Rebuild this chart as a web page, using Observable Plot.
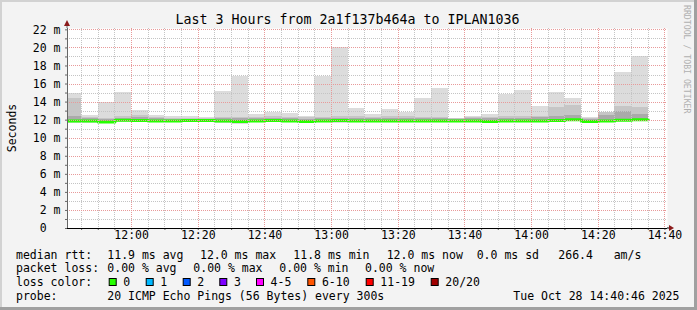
<!DOCTYPE html>
<html><head><meta charset="utf-8">
<script src="https://cdn.jsdelivr.net/npm/d3@7"></script>
<script src="https://cdn.jsdelivr.net/npm/@observablehq/plot@0.6"></script>
<style>
html,body{margin:0;padding:0;background:#f3f3f3;}
#chart{width:697px;height:310px;}
svg text{font-family:"DejaVu Sans Mono",monospace;}
</style></head><body><div id="chart"></div>
<script>
// ---- data ----
const barStarts = ["11:40","11:45","11:50","11:55","12:00","12:05","12:10","12:15","12:20","12:25","12:30","12:35","12:40","12:45","12:50","12:55","13:00","13:05","13:10","13:15","13:20","13:25","13:30","13:35","13:40","13:45","13:50","13:55","14:00","14:05","14:10","14:15","14:20","14:25","14:30"];
const rttMax = [14.95,12.5,14.0,15.1,13.1,12.55,12.35,12.35,12.3,15.2,16.8,12.6,12.9,12.75,12.45,16.8,20.05,13.3,12.65,13.2,12.9,14.45,15.45,12.2,12.45,12.6,14.8,15.3,13.55,15.05,14.35,12.3,12.9,17.25,19.05];
const rttP90 = [14.4,12.3,12.2,12.35,12.55,12.3,12.2,12.2,12.2,12.3,12.3,12.3,12.4,12.3,12.25,12.3,12.45,12.45,12.3,12.35,12.35,12.3,12.3,12.15,12.3,12.3,12.4,12.35,12.45,13.45,13.65,12.2,12.85,13.55,13.45];
const rttP75 = [12.4,12.15,12.1,12.2,12.3,12.15,12.1,12.1,12.1,12.15,12.15,12.15,12.2,12.15,12.1,12.15,12.2,12.2,12.15,12.2,12.2,12.15,12.15,12.05,12.15,12.15,12.2,12.2,12.3,12.4,12.55,12.1,12.5,13.0,12.6];
const rttP25 = [11.8,11.8,11.75,11.85,11.8,11.8,11.8,11.85,11.85,11.8,11.75,11.8,11.85,11.8,11.8,11.8,11.8,11.8,11.8,11.8,11.8,11.8,11.8,11.85,11.8,11.8,11.8,11.8,11.8,11.85,11.9,11.8,11.85,11.9,11.9];
const rttP10 = [11.7,11.75,11.65,11.8,11.75,11.75,11.75,11.8,11.8,11.7,11.65,11.75,11.8,11.75,11.75,11.75,11.7,11.75,11.75,11.75,11.75,11.75,11.75,11.8,11.75,11.7,11.75,11.75,11.75,11.8,11.85,11.7,11.8,11.85,11.85];
const rttMin = [11.6,11.65,11.6,11.75,11.7,11.7,11.7,11.75,11.75,11.6,11.55,11.7,11.75,11.7,11.7,11.7,11.6,11.7,11.7,11.7,11.7,11.7,11.7,11.75,11.7,11.6,11.7,11.7,11.7,11.75,11.8,11.6,11.75,11.8,11.8];
const rttMedian = [11.9,11.9,11.8,12.0,11.95,11.9,11.9,11.95,11.95,11.9,11.85,11.9,11.95,11.9,11.85,11.9,11.95,11.9,11.9,11.9,11.9,11.9,11.9,11.9,11.9,11.85,11.9,11.9,11.9,11.95,12.05,11.85,11.9,12.0,12.05];
const yTickValues = [0,2,4,6,8,10,12,14,16,18,20,22];
const yTickLabels = ["0\u00a0\u00a0","2 m","4 m","6 m","8 m","10 m","12 m","14 m","16 m","18 m","20 m","22 m"];
const xTickTimes = ["12:00","12:20","12:40","13:00","13:20","13:40","14:00","14:20","14:40"];
const xTickLabels = ["12:00","12:20","12:40","13:00","13:20","13:40","14:00","14:20","14:40"];
const rangeStart = "11:40:46", rangeEnd = "14:40:46";
const titleText = "Last 3 Hours from 2a1f137b464a to IPLAN1036";
const statLine1 = [["median rtt:",16],["11.9 ms avg",107.3],["12.0 ms max",200],["11.8 ms min",293.3],["12.0 ms now",386.7],["0.0 ms sd",476.7],["266.4   am/s",558.3]];
const statLine2 = [["packet loss:",16],["0.00 % avg",107.3],["0.00 % max",193.3],["0.00 % min",279.3],["0.00 % now",365]];
const lossLabels = ["0","1","2","3","4-5","6-10","11-19","20/20"];
const lossColors = ["#26ff00","#00b8ff","#0059ff","#7e00ff","#ff00ff","#ff5500","#ff0000","#a00000"];
const lossX = [108.7,145.7,182.7,219.3,256,307.3,365.7,430.7];
const probeLine = [["probe:",16],["20 ICMP Echo Pings (56 Bytes) every 300s",107.3],["Tue Oct 28 14:40:46 2025",513.3]];

// ---- build ----
const toDate = s => { const [h,m,sec] = s.split(":").map(Number); return new Date(2025,9,28,h,m,sec||0); };
const step = 5*60000;
const bars = barStarts.map((s,i) => { const t0 = toDate(s); return {t0, t1:new Date(+t0+step),
  max:rttMax[i], p90:rttP90[i], p75:rttP75[i], p25:rttP25[i], p10:rttP10[i], min:rttMin[i], med:rttMedian[i]}; });
const medPts = bars.map(b => ({t:b.t0, v:b.med}));
medPts.push({t:bars[bars.length-1].t1, v:bars[bars.length-1].med});
const t0 = toDate(rangeStart), t1 = toDate(rangeEnd);
const fiveMin = [], twentyMin = [];
for (let t = +toDate("11:45"); t <= +t1; t += step) { const d = new Date(t); if (d.getMinutes()%20===0) twentyMin.push(d); else fiveMin.push(d); }
const allFive = [...fiveMin, ...twentyMin];
const minorY = d3.range(1,23).filter(v => v%2===1);
const majorY = d3.range(2,23,2);
const xTicks = xTickTimes.map((s,i)=>({t:toDate(s), label:xTickLabels[i]}));
const yTicks = yTickValues.map((v,i)=>({v, label:yTickLabels[i]}));

const crisp = {shapeRendering:"crispEdges"};
const plot = Plot.plot({
  width:697, height:310,
  marginLeft:67, marginRight:30, marginTop:28, marginBottom:82,
  style:{background:"#f3f3f3", fontFamily:"DejaVu Sans Mono, monospace", fontSize:"11.5px", color:"#000", overflow:"visible"},
  x:{type:"time", domain:[t0,t1], axis:null},
  y:{domain:[0,22.15], axis:null},
  marks:[
    Plot.frame({fill:"white", stroke:null}),
    Plot.rect(bars, {x1:"t0", x2:"t1", y1:"min", y2:"max", fill:"#dcdcdc", clip:true, ...crisp}),
    Plot.rect(bars, {x1:"t0", x2:"t1", y1:"p10", y2:"p90", fill:"#c6c6c6", clip:true, ...crisp}),
    Plot.rect(bars, {x1:"t0", x2:"t1", y1:"p25", y2:"p75", fill:"#aaaaaa", clip:true, ...crisp}),
    Plot.line(medPts, {x:"t", y:"v", curve:"step-after", stroke:"#26ff00", strokeWidth:3, clip:true}),
    Plot.ruleY(minorY, {stroke:"#c4c4c4", strokeDasharray:"1,1", ...crisp}),
    Plot.ruleX(fiveMin, {stroke:"#c4c4c4", strokeDasharray:"1,1", ...crisp}),
    Plot.ruleY(majorY, {stroke:"#e89a9a", strokeDasharray:"1,1", ...crisp}),
    Plot.ruleX(twentyMin, {stroke:"#e89a9a", strokeDasharray:"1,1", ...crisp}),
    Plot.axisX(allFive, {tickSize:2, tickFormat:()=> "", stroke:"#666"}),
    Plot.axisY(d3.range(0,23), {tickSize:2, tickFormat:()=> "", stroke:"#666"}),
    Plot.ruleX([t0], {stroke:"#666", ...crisp}),
    Plot.ruleY([0], {stroke:"#000", ...crisp}),
    Plot.text(xTicks, {x:"t", text:"label", frameAnchor:"bottom", dy:10, fontSize:11.5}),
    Plot.text(yTicks, {y:"v", text:"label", frameAnchor:"left", textAnchor:"end", dx:-7, fontSize:11.5})
  ]
});
document.getElementById("chart").appendChild(plot);

// ---- decorations and legend text ----
const svg = d3.select(plot);
const X = plot.scale("x"), Y = plot.scale("y");
const x0 = X.apply(t0), xr = X.range[1], y0 = Y.apply(0), yt = Y.range[1];
const deco = svg.append("g").attr("text-anchor","start");
// frame bevel
deco.append("rect").attr("x",0).attr("y",0).attr("width",697).attr("height",2).attr("fill","#d2d2d2");
deco.append("rect").attr("x",0).attr("y",0).attr("width",2).attr("height",310).attr("fill","#d2d2d2");
deco.append("rect").attr("x",0).attr("y",307).attr("width",697).attr("height",3).attr("fill","#a0a0a0");
deco.append("rect").attr("x",694).attr("y",0).attr("width",3).attr("height",310).attr("fill","#a0a0a0");
// axis extensions + arrows
deco.append("line").attr("x1",x0).attr("x2",x0).attr("y1",yt).attr("y2",yt-3).attr("stroke","#666");
deco.append("path").attr("d",`M${x0-3},${yt-2}L${x0},${yt-8}L${x0+3},${yt-2}Z`).attr("fill","#8b1a1a");
deco.append("line").attr("x1",xr).attr("x2",xr+2).attr("y1",y0).attr("y2",y0).attr("stroke","#000");
deco.append("path").attr("d",`M${xr+2},${y0-3}L${xr+7},${y0}L${xr+2},${y0+3}Z`).attr("fill","#8b1a1a");
// title
deco.append("text").attr("x",347.5).attr("y",23.5).attr("text-anchor","middle").attr("font-size",13.3).text(titleText);
// y label
deco.append("text").attr("transform","translate(15.5,128) rotate(-90)").attr("text-anchor","middle").attr("font-size",11.5).text("Seconds");
// rrdtool credit
deco.append("text").attr("transform","translate(683.5,5) rotate(90)").attr("text-anchor","start").attr("font-size",8.2).attr("fill","#b0b0b0").text("RRDTOOL / TOBI OETIKER");
// legend
const put = (arr, y) => arr.forEach(([s,x]) => deco.append("text").attr("x",x).attr("y",y).attr("text-anchor","start").attr("font-size",11.5).style("white-space","pre").text(s));
put(statLine1, 258.8);
put(statLine2, 272.3);
put([["loss color:",16]], 286.2);
lossLabels.forEach((lab,i) => {
  deco.append("rect").attr("x",lossX[i]+0.5).attr("y",278.5).attr("width",7).attr("height",7).attr("fill",lossColors[i]).attr("stroke","#000");
  deco.append("text").attr("x",lossX[i]+14.6).attr("y",286.2).attr("text-anchor","start").attr("font-size",11.5).text(lab);
});
put(probeLine, 299.8);
</script></body></html>
